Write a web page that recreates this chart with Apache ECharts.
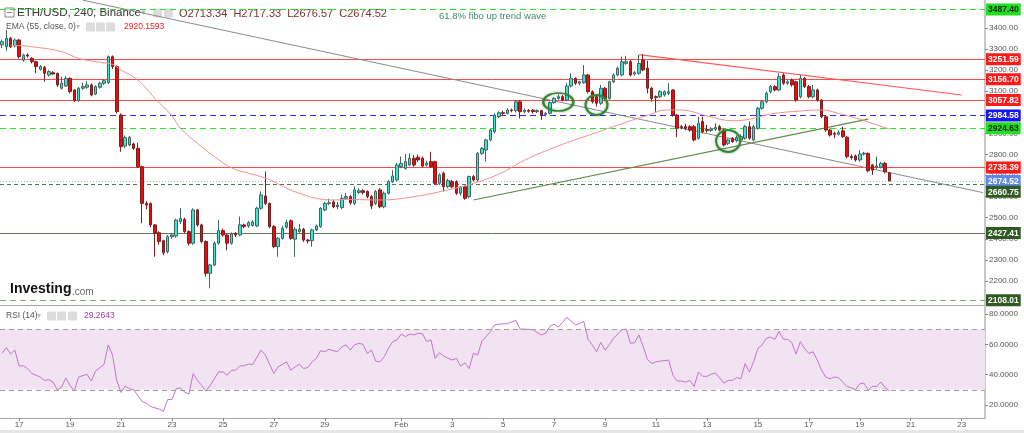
<!DOCTYPE html>
<html><head><meta charset="utf-8">
<script src="https://cdn.jsdelivr.net/npm/echarts@6/dist/echarts.min.js"></script>
<style>html,body{margin:0;padding:0;background:#fff;}#c{width:1024px;height:433px;}</style>
</head><body><div id="c"></div>
<script>
// ---------- DATA ----------
// 4h candles, first slot = 2022-01-16 08:00 UTC
const SLOT_COUNT = 232;
const candles = [ // [open, close, low, high]
[3320,3335,3305,3345],[3311,3351,3290,3390],[3351,3311,3305,3358],[3315,3343,3308,3350],[3343,3264,3255,3348],
[3248,3272,3240,3278],[3272,3267,3260,3280],[3256,3240,3232,3262],[3240,3217,3185,3245],[3204,3217,3198,3224],
[3213,3185,3145,3220],[3177,3193,3170,3200],[3188,3182,3178,3195],[3185,3130,3120,3188],[3114,3138,3108,3169],
[3125,3161,3120,3172],[3161,3098,3090,3166],[3106,3055,3050,3110],[3055,3114,3050,3120],[3114,3122,3108,3140],
[3119,3130,3112,3148],[3130,3082,3076,3138],[3087,3122,3082,3128],[3119,3138,3112,3145],[3138,3150,3130,3158],
[3141,3264,3135,3270],[3264,3217,3205,3270],[3217,3003,2995,3222],[2987,2837,2813,2995],[2840,2881,2830,2890],
[2845,2881,2838,2888],[2850,2829,2822,2856],[2829,2742,2735,2856],[2742,2568,2474,2748],[2568,2560,2540,2578],
[2568,2466,2455,2572],[2466,2426,2315,2470],[2429,2387,2372,2435],[2391,2334,2322,2396],[2339,2410,2330,2418],
[2410,2418,2400,2428],[2413,2489,2405,2495],[2481,2497,2470,2545],[2492,2434,2428,2500],[2434,2379,2368,2440],
[2379,2537,2372,2545],[2537,2466,2458,2542],[2466,2387,2378,2472],[2387,2236,2220,2392],[2236,2276,2165,2282],
[2276,2379,2270,2388],[2379,2439,2372,2489],[2439,2418,2410,2448],[2418,2379,2345,2425],[2379,2423,2372,2430],
[2426,2418,2408,2432],[2418,2466,2412,2505],[2466,2458,2450,2472],[2461,2477,2452,2484],[2463,2480,2458,2488],
[2461,2545,2455,2552],[2545,2608,2538,2625],[2603,2568,2560,2719],[2568,2458,2450,2572],[2458,2363,2355,2465],
[2363,2402,2315,2408],[2402,2450,2396,2462],[2455,2477,2448,2490],[2485,2402,2395,2492],[2398,2445,2315,2455],
[2434,2445,2428,2470],[2445,2394,2385,2452],[2394,2390,2378,2400],[2391,2442,2363,2448],[2442,2461,2436,2468],
[2458,2545,2452,2550],[2537,2568,2530,2575],[2568,2571,2560,2590],[2575,2552,2545,2585],[2552,2560,2540,2575],
[2548,2592,2540,2610],[2592,2600,2585,2618],[2600,2571,2562,2608],[2568,2632,2560,2648],[2620,2628,2612,2640],
[2628,2620,2610,2635],[2624,2600,2592,2630],[2600,2556,2540,2608],[2568,2624,2560,2632],[2632,2552,2545,2640],
[2552,2616,2545,2624],[2616,2671,2610,2680],[2671,2698,2665,2726],[2679,2750,2672,2760],[2742,2758,2735,2790],
[2734,2766,2728,2802],[2750,2782,2745,2805],[2782,2750,2742,2797],[2787,2774,2765,2800],[2782,2745,2738,2790],
[2750,2758,2742,2770],[2766,2742,2735,2813],[2766,2663,2655,2770],[2663,2703,2655,2710],[2711,2647,2624,2718],
[2647,2676,2640,2685],[2671,2647,2640,2680],[2671,2616,2608,2678],[2616,2644,2605,2650],[2647,2592,2585,2652],
[2600,2695,2592,2700],[2695,2679,2672,2702],[2679,2805,2672,2812],[2805,2829,2798,2835],[2821,2869,2766,2875],
[2869,2916,2862,2922],[2908,2987,2900,2995],[2979,2998,2972,3005],[2998,2995,2985,3008],[2995,3011,2990,3020],
[3011,3008,3000,3018],[3008,3050,3000,3058],[3050,3003,2971,3058],[3003,3010,2995,3018],[3010,3005,2998,3015],
[3010,3003,2995,3016],[3003,3008,2996,3014],[3008,2987,2964,3012],[2990,2995,2980,3002],[2995,3046,2990,3052],
[3046,3066,3040,3072],[3066,3074,3060,3085],[3074,3058,3052,3082],[3058,3125,3052,3138],[3125,3161,3118,3185],
[3161,3138,3130,3166],[3138,3145,3128,3150],[3140,3177,3135,3224],[3177,3098,3090,3182],[3098,3050,3042,3104],
[3074,3043,3027,3080],[3043,3114,3035,3130],[3114,3066,3058,3120],[3066,3145,3060,3150],[3145,3177,3140,3185],
[3177,3209,3170,3216],[3177,3240,3170,3264],[3232,3240,3225,3268],[3240,3177,3170,3248],[3182,3188,3175,3195],
[3185,3232,3178,3272],[3248,3201,3195,3275],[3209,3114,3090,3245],[3114,3066,3050,3120],[3074,3070,3003,3080],
[3074,3098,3068,3105],[3082,3098,3075,3104],[3090,3098,3082,3138],[3106,2987,2980,3110],[2987,2924,2882,2992],
[2932,2928,2920,2940],[2932,2924,2915,2945],[2932,2916,2908,2938],[2932,2869,2862,2940],[2877,2948,2870,2979],
[2956,2908,2900,2979],[2918,2914,2904,2940],[2914,2920,2908,2930],[2920,2928,2912,2948],[2932,2916,2910,2940],
[2916,2845,2838,2922],[2853,2869,2845,2875],[2877,2861,2855,2883],[2865,2880,2858,2890],[2869,2885,2862,2896],
[2877,2932,2870,2940],[2932,2877,2870,2956],[2869,2932,2862,2940],[2924,3019,2918,3025],[3019,3050,3012,3058],
[3050,3090,3043,3098],[3098,3122,3090,3130],[3122,3106,3100,3128],[3106,3169,3100,3185],[3177,3138,3130,3185],
[3138,3145,3130,3152],[3153,3130,3122,3160],[3145,3058,3050,3150],[3074,3161,3066,3177],[3161,3122,3115,3168],
[3122,3074,3066,3130],[3074,3106,3066,3130],[3106,3058,3050,3112],[3058,2979,2972,3062],[2979,2916,2908,2985],
[2916,2892,2885,2922],[2900,2896,2877,2908],[2896,2904,2890,2915],[2912,2885,2878,2932],[2882,2790,2782,2888],
[2790,2785,2775,2800],[2793,2774,2766,2800],[2774,2802,2766,2821],[2802,2806,2795,2812],[2805,2723,2715,2810],
[2750,2726,2703,2755],[2740,2745,2730,2790],[2740,2758,2734,2765],[2758,2718,2710,2765],[2713.34,2674.52,2674.52,2717.33]
];
// EMA(55): [candle index, value]
const emaPoints = [[2,3319],[7,3311],[14,3288],[18,3256],[23,3237],[26,3228],[28,3201],[32,3153],[36,3066],[40,2983],
[42,2924],[46,2853],[50,2790],[54,2737],[58,2711],[61,2695],[64,2671],[67,2640],[70,2616],[74,2592],[78,2584],[81,2587],
[89,2584],[97,2600],[105,2632],[111,2663],[117,2707],[124,2782],[132,2848],[140,2904],[148,2960],[153,2992],[156,3011],
[160,3011],[166,2983],[172,2960],[176,2967],[181,2992],[188,3006],[193,3011],[197,2995],[202,2967],[206,2940],[209,2920.1593]];
// RSI(14): [candle index, value]
const rsiPoints = [[0,54],[1,57.8],[2,53.6],[3,56.2],[4,45.8],[5,45.8],[6,44],[7,40.7],[9,38.4],[10,36.2],[11,36.7],[12,35.1],
[13,30],[14,31.8],[15,37.8],[16,32.9],[17,29.1],[18,38.4],[20,40.2],[21,35.8],[22,42.4],[24,46.7],[25,59.6],[26,52.9],
[27,36.2],[28,28.2],[29,32.4],[30,30.7],[31,30],[33,22.2],[34,21.1],[35,18.9],[37,17.3],[38,15.8],[39,23.6],[40,23.6],
[41,30.7],[42,31.3],[43,28.4],[44,27.3],[45,40.7],[46,36.2],[47,32.9],[48,29.1],[49,32.9],[51,41.8],[52,41.8],[53,39.6],
[54,42.9],[55,42.9],[56,45.8],[57,45.8],[58,46.9],[59,46.7],[61,56.2],[62,52.9],[64,40.7],[65,45.1],[67,48.4],[68,42.9],
[69,45.1],[70,46.9],[71,44],[72,44.7],[73,48.4],[74,50.7],[75,55.8],[76,55.1],[77,56.7],[78,55.8],[79,55.1],[80,58.4],
[81,59.6],[82,56.2],[83,59.6],[84,60.7],[85,60],[86,54],[87,56.2],[88,48.9],[89,48.4],[90,51.8],[91,57.3],[92,61.8],
[93,62.9],[94,66.7],[95,65.1],[96,66.7],[97,66.2],[98,67.3],[99,66.9],[100,61.8],[101,62.9],[102,50.7],[103,54.4],
[104,52.2],[106,49.6],[107,50.7],[108,45.6],[109,47.8],[110,44],[111,54],[112,52.9],[113,62.2],[114,65.1],[115,68.4],
[116,72.9],[117,73.3],[119,73.6],[121,75.8],[122,70],[123,70],[125,69.6],[126,67.8],[127,66.2],[128,67.3],[129,71.8],
[130,73.3],[131,71.3],[132,74.4],[133,77.8],[135,72.9],[136,73.6],[137,75.1],[138,63.3],[139,59.6],[140,55.1],[141,61.3],
[142,56.2],[143,59.6],[144,64],[146,69.6],[147,70],[148,60.7],[149,61.1],[150,66.2],[151,58.4],[152,50],[153,47.3],
[154,48.4],[155,48.9],[157,49.6],[158,39.6],[159,35.8],[160,35.8],[161,35.1],[162,36.2],[163,32.2],[164,41.8],[165,38.9],
[166,38.9],[167,40.2],[168,41.1],[170,34.4],[171,36.2],[172,36.2],[173,38],[174,37.3],[175,47.3],[176,41.8],[177,48.4],
[178,57.3],[179,59.6],[180,64],[181,64.7],[182,63.3],[183,68.4],[184,63.3],[185,63.3],[186,61.1],[187,53.6],[188,61.8],
[189,57.3],[190,54],[191,55.1],[192,49.6],[193,42.9],[194,38.4],[195,37.3],[196,38.4],[197,38],[199,32.2],[200,31.3],
[201,30],[202,34],[203,34.4],[204,29.6],[205,32.2],[206,32.2],[207,35.1],[208,31.3],[209,29.2643]];
// horizontal price levels
const levelPrices = [3487.40, 3251.59, 3156.70, 3057.82, 2984.58, 2924.63, 2738.39, 2674.52, 2660.75, 2427.41, 2108.01];
// trend lines: [[startIndex, startPrice], [endIndex, endPrice]]
const trendGray  = [[19, 3532], [231, 2619]];
const trendGreen = [[111, 2584], [204, 2968]];
const trendRed   = [[150, 3274], [226, 3082]];
// hand-drawn ellipse annotations: [candle index, price]
const circleAnchors = [[131, 3049], [140, 3035], [171, 2864]];
// axis ticks
const priceTicks = [2200,2300,2400,2500,2600,2700,2800,2900,3000,3100,3200,3300,3400];
const rsiTicks = [20, 40, 60, 80];
const rsiBands = [30, 70];
const dayTicks = ['01-17','01-19','01-21','01-23','01-25','01-27','01-29','02-01','02-03','02-05','02-07','02-09','02-11','02-13','02-15','02-17','02-19','02-21','02-23'];
const dayTickLabels = ['17','19','21','23','25','27','29','Feb','3','5','7','9','11','13','15','17','19','21','23'];
const headerOHLC = 'O2713.34  H2717.33  L2676.57  C2674.52';

// ---------- BUILD ----------
const FONT = '"Liberation Sans", Arial, sans-serif';
const pad = n => String(n).padStart(2, '0');
const START = Date.UTC(2022, 0, 16, 8);
const categories = [];
for (let i = 0; i < SLOT_COUNT; i++) {
  const d = new Date(START + i * 4 * 3600e3);
  categories.push(pad(d.getUTCMonth() + 1) + '-' + pad(d.getUTCDate()) + ' ' + pad(d.getUTCHours()) + ':00');
}
const tickMap = new Map(dayTicks.map((d, k) => [d + ' 00:00', dayTickLabels[k]]));
const toCat = pts => pts.map(([i, v]) => [categories[i], v]);

const levelStyles = [
  {line:'#2ee02e', type:[6,4], bg:'#22dd22', fg:'#0a2a0a'},
  {line:'#ff4a4a', type:'solid', bg:'#ff1a1a', fg:'#fff'},
  {line:'#ff4a4a', type:'solid', bg:'#ff1a1a', fg:'#fff'},
  {line:'#ff4a4a', type:'solid', bg:'#ff1a1a', fg:'#fff'},
  {line:'#2c2cff', type:[6,4], bg:'#1616ee', fg:'#fff'},
  {line:'#2ee02e', type:[6,4], bg:'#22dd22', fg:'#0a2a0a'},
  {line:'#ff4a4a', type:'solid', bg:'#ff1a1a', fg:'#fff'},
  {line:'#9db4f2', type:[1,2], bg:'#6088e6', fg:'#fff'},
  {line:'#4d7a3c', type:[4,3], bg:'#2f5a22', fg:'#fff', shift:8},
  {line:'#5e7c50', type:'solid', bg:'#2f5a22', fg:'#fff'},
  {line:'#86a676', type:[6,4], bg:'#2f5a22', fg:'#fff'}
];
function tagLabel(text, bg, fg, shift) {
  return {
    show: true, position: 'end', distance: 1,
    formatter: '{b|' + text + '}',
    padding: [2 * (shift || 0), 0, 0, 0],
    rich: { b: { backgroundColor: bg, color: fg, padding: [2, 2, 1, 2], fontSize: 8.5, fontFamily: FONT, fontWeight: 'bold' } }
  };
}
const levelLines = levelPrices.map((p, k) => ({
  yAxis: p,
  lineStyle: { color: levelStyles[k].line, type: levelStyles[k].type, width: 1 },
  label: tagLabel(p.toFixed(2), levelStyles[k].bg, levelStyles[k].fg, levelStyles[k].shift)
}));
function seg(t, color, width) {
  return [
    { coord: [categories[t[0][0]], t[0][1]], lineStyle: { color, width, type: 'solid' }, label: { show: false } },
    { coord: [categories[t[1][0]], t[1][1]] }
  ];
}
const emaLast = emaPoints[emaPoints.length - 1][1];
const rsiLast = rsiPoints[rsiPoints.length - 1][1];
const circleSizes = [[30, 18], [22, 20], [24, 22]];

const gBox = (x, y) => ({ type: 'rect', shape: { x, y, width: 9, height: 9, r: 1 }, style: { fill: '#dcdcdc' }, silent: true });
const gText = (x, y, text, size, color, weight) => ({
  type: 'text', x, y, silent: true,
  style: { text, fill: color, fontSize: size, fontFamily: FONT, fontWeight: weight || 'normal', align: 'left', verticalAlign: 'middle' }
});
const axisLabelStyle = { color: '#555', fontSize: 8, margin: 4, fontFamily: FONT };

const option = {
  animation: false,
  backgroundColor: '#fff',
  textStyle: { fontFamily: FONT },
  grid: [
    { left: 0, right: 39, top: 0, height: 305 },
    { left: 0, right: 39, top: 307, height: 111 }
  ],
  xAxis: [
    { type: 'category', gridIndex: 0, data: categories, boundaryGap: true,
      axisLine: { show: true, onZero: false, lineStyle: { color: '#a8a8a8', width: 1 } },
      axisTick: { show: false }, axisLabel: { show: false }, splitLine: { show: false } },
    { type: 'category', gridIndex: 1, data: categories, boundaryGap: true,
      axisLine: { show: true, onZero: false, lineStyle: { color: '#a8a8a8', width: 1 } },
      axisTick: { show: true, alignWithLabel: true, length: 3, interval: (i, v) => tickMap.has(v), lineStyle: { color: '#888' } },
      axisLabel: Object.assign({ interval: (i, v) => tickMap.has(v), formatter: v => tickMap.get(v) || '' }, axisLabelStyle, { margin: 3 }),
      splitLine: { show: false } }
  ],
  yAxis: [
    { type: 'value', gridIndex: 0, position: 'right', min: 2085.9, max: 3532.8, z: 0,
      splitLine: { show: false },
      axisLine: { show: true, lineStyle: { color: '#c8c8c8', width: 2 } },
      axisTick: { show: true, customValues: priceTicks, length: 3, lineStyle: { color: '#888' } },
      axisLabel: Object.assign({ customValues: priceTicks, formatter: v => v.toFixed(2) }, axisLabelStyle) },
    { type: 'value', gridIndex: 1, position: 'right', min: 11.4, max: 84.6, z: 0,
      splitLine: { show: false },
      axisLine: { show: true, lineStyle: { color: '#c8c8c8', width: 2 } },
      axisTick: { show: true, customValues: rsiTicks, length: 3, lineStyle: { color: '#888' } },
      axisLabel: Object.assign({ customValues: rsiTicks, formatter: v => v.toFixed(4) }, axisLabelStyle) }
  ],
  series: [
    { type: 'candlestick', xAxisIndex: 0, yAxisIndex: 0, data: candles, barWidth: 3, z: 3,
      itemStyle: { color: '#3fe3d3', color0: '#e80c0c', borderColor: '#3d6661', borderColor0: '#7c1f1f', borderWidth: 1 },
      markLine: { symbol: 'none', silent: true, animation: false, z: 2,
        data: levelLines.concat([
          seg(trendGray, '#8a8a8a', 1),
          seg(trendGreen, '#5c8c46', 1.2),
          seg(trendRed, '#ff5858', 1.2)
        ]) },
      markPoint: { silent: true, animation: false,
        data: circleAnchors.map((c, k) => ({ coord: [categories[c[0]], c[1]], symbol: 'circle', symbolSize: circleSizes[k] })),
        itemStyle: { color: 'rgba(0,0,0,0)', borderColor: '#2f8a2f', borderWidth: 2, shadowColor: 'rgba(0,0,0,0.35)', shadowBlur: 3 },
        label: { show: false } }
    },
    { type: 'line', name: 'EMA', xAxisIndex: 0, yAxisIndex: 0, data: toCat(emaPoints), smooth: 0.4, showSymbol: false, z: 4,
      lineStyle: { color: '#f39090', width: 1 },
      markLine: { symbol: 'none', silent: true, animation: false,
        data: [{ yAxis: emaLast, lineStyle: { width: 0, opacity: 0 }, label: tagLabel(emaLast.toFixed(2), '#ff1a1a', '#fff', 11) }] } },
    { type: 'line', name: 'RSI', xAxisIndex: 1, yAxisIndex: 1, data: toCat(rsiPoints), showSymbol: false, z: 4,
      lineStyle: { color: '#c474cc', width: 1 },
      markArea: { silent: true, itemStyle: { color: '#f2e3f2' }, data: [[{ yAxis: rsiBands[0] }, { yAxis: rsiBands[1] }]] },
      markLine: { symbol: 'none', silent: true, animation: false,
        data: [
          { yAxis: rsiBands[1], lineStyle: { color: '#a0a0a0', type: [5, 4], width: 1 }, label: { show: false } },
          { yAxis: rsiBands[0], lineStyle: { color: '#a0a0a0', type: [5, 4], width: 1 }, label: { show: false } },
          { yAxis: rsiLast, lineStyle: { width: 0, opacity: 0 }, label: tagLabel(rsiLast.toFixed(4), '#8e1a8e', '#fff', 0) }
        ] } }
  ],
  graphic: [
    { type: 'rect', shape: { x: 5, y: 8, width: 9, height: 9 }, style: { fill: '#fff', stroke: '#888', lineWidth: 1 }, silent: true },
    { type: 'line', shape: { x1: 7, y1: 12.5, x2: 12, y2: 12.5 }, style: { stroke: '#888', lineWidth: 1 }, silent: true },
    gText(17, 13, 'ETH/USD, 240, Binance', 11.5, '#333'),
    gText(141, 13, '▾', 9, '#bbb'),
    gBox(153, 8.5), gBox(164, 8.5),
    gText(179, 13.5, headerOHLC, 11, '#7a3030'),
    gText(6, 27, 'EMA (55, close, 0)', 8.5, '#555'),
    gText(76, 27, '▾', 8, '#bbb'),
    gBox(86, 22.5), gBox(96, 22.5), gBox(106, 22.5),
    gText(124, 27, emaLast.toFixed(4), 8.5, '#ee1c24'),
    gText(439, 16, '61.8% fibo up trend wave', 9.5, '#3c8a72'),
    gText(10, 289, 'Investing', 14, '#111', 'bold'),
    gText(72, 292, '.com', 10, '#666'),
    gText(6, 316, 'RSI (14)', 8.5, '#555'),
    gText(37, 316, '▾', 8, '#bbb'),
    gBox(47, 311.5), gBox(57, 311.5), gBox(68, 311.5),
    gText(84, 316, rsiLast.toFixed(4), 8.5, '#a03aa8'),
    { type: 'rect', shape: { x: 0, y: 430, width: 1024, height: 3 }, style: { fill: '#e6e6e6' }, silent: true }
  ]
};
const chart = echarts.init(document.getElementById('c'), null, { renderer: 'canvas', width: 1024, height: 433 });
chart.setOption(option);
</script>
</body></html>
